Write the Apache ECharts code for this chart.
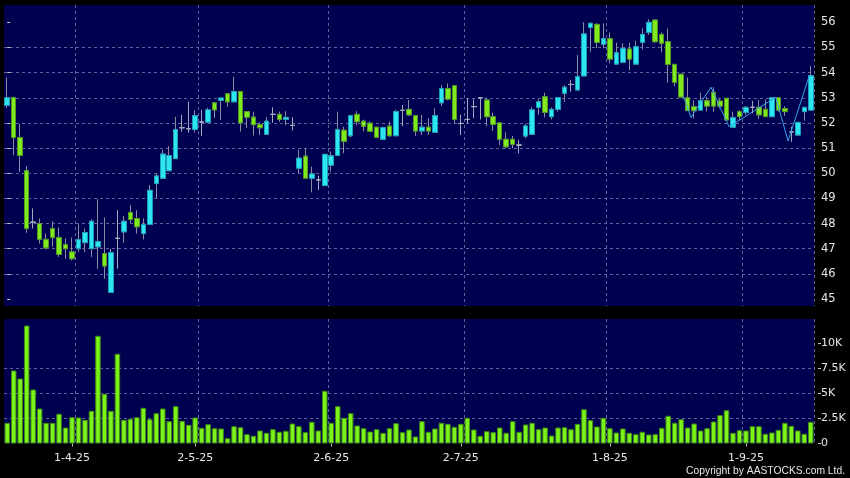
<!DOCTYPE html>
<html>
<head>
<meta charset="utf-8">
<script src="https://cdn.jsdelivr.net/npm/echarts@6/dist/echarts.min.js"></script>
<style>
html,body{margin:0;padding:0;background:#000;}
#c{width:850px;height:478px;}
</style>
</head>
<body>
<div id="c"></div>
<script>
// ---- data ----
const open  = [52.7,53.0,51.42,50.1,48.05,47.99,47.37,47.8,47.44,47.16,46.87,47.0,47.24,47.0,47.07,46.8,45.26,47.41,47.67,48.44,48.2,47.6,47.96,49.59,49.8,50.1,50.58,51.81,51.77,51.74,52.04,52.03,52.8,52.9,53.16,52.84,53.25,52.45,52.23,51.93,51.55,52.34,52.34,52.14,51.9,50.2,50.68,49.8,49.74,49.51,50.32,50.71,51.71,51.49,52.34,52.07,51.99,51.83,51.35,51.87,51.49,52.5,52.54,52.29,51.68,51.83,51.63,52.8,53.37,53.48,51.98,52.14,52.65,53.0,52.91,52.25,52.0,51.35,51.35,51.12,51.48,51.55,52.62,53.04,52.25,52.54,53.18,53.53,53.31,53.87,55.8,55.92,55.13,55.35,54.34,54.41,54.94,54.34,55.2,55.6,56.09,55.52,55.23,54.33,53.94,53.0,52.65,52.51,52.88,53.22,52.87,52.98,51.83,52.45,52.42,52.62,52.62,52.54,52.25,53.0,52.57,51.65,51.52,52.45,52.51];
const close = [53.0,51.42,50.71,47.8,48.05,47.37,47.03,47.44,46.77,47.0,46.6,47.36,47.64,48.09,47.28,46.31,46.84,47.41,48.09,48.16,47.87,47.96,49.32,49.89,50.76,50.7,51.74,51.81,51.77,52.29,52.04,52.52,52.52,52.99,52.84,53.25,52.0,52.23,51.93,51.81,52.07,52.34,52.14,52.22,51.9,50.6,49.8,49.97,49.74,50.75,50.69,51.74,51.27,52.29,52.05,51.87,51.67,51.43,51.81,51.49,52.45,52.5,52.32,51.68,51.83,51.68,52.29,53.37,52.95,52.14,51.98,52.14,52.65,53.0,52.25,51.94,51.35,51.05,51.15,51.12,51.88,52.52,52.84,52.42,52.54,53.01,53.42,53.53,53.84,55.54,55.96,55.2,55.35,54.54,54.79,54.97,54.54,55.03,55.52,56.0,55.23,55.17,54.33,53.61,53.03,52.49,52.49,52.88,52.67,52.67,52.67,52.12,52.21,52.25,52.62,52.62,52.32,52.25,53.0,52.51,52.45,51.65,52.02,52.62,53.88];
const high  = [53.8,53.05,51.96,50.28,48.6,48.2,47.6,48.09,47.84,47.41,47.44,47.97,47.8,48.17,48.97,48.24,47.0,48.53,48.3,48.73,48.53,48.2,49.53,49.99,50.92,51.08,52.24,52.32,52.85,52.5,52.52,52.6,52.8,52.99,53.16,53.84,53.25,52.45,52.45,52.02,52.23,52.62,52.45,52.47,52.23,50.92,51.0,50.26,49.9,50.76,50.86,52.45,51.85,52.32,52.47,52.13,52.05,51.85,51.85,52.05,52.52,52.71,52.91,52.29,52.32,52.18,52.58,53.5,53.57,53.48,52.32,52.98,52.94,53.0,53.0,52.41,52.0,51.63,51.48,51.32,51.96,52.62,52.94,53.2,52.62,53.01,53.5,53.7,54.7,56.0,56.0,55.96,55.96,55.6,55.19,55.17,55.19,55.27,55.76,56.12,56.12,55.6,55.76,54.33,53.94,53.81,52.9,53.2,53.04,53.42,52.98,52.98,52.45,52.51,52.67,52.88,52.91,52.94,53.0,53.0,52.67,51.85,52.05,52.62,54.26];
const low   = [52.6,50.72,50.06,47.63,47.8,47.2,46.97,47.07,46.67,46.6,46.53,46.87,46.87,46.67,46.2,45.8,45.26,46.2,47.23,48.03,47.6,47.37,47.96,49.0,49.8,50.1,50.58,51.65,51.61,51.61,51.49,52.0,52.2,52.12,52.64,52.84,51.66,51.8,51.5,51.52,51.52,52.0,52.04,51.9,51.7,49.99,49.8,49.24,49.33,49.5,50.06,50.71,50.79,51.43,51.91,51.67,51.64,51.39,51.32,51.45,51.49,51.87,52.28,51.49,51.52,51.52,51.63,52.67,52.9,51.96,51.52,51.98,52.19,52.14,51.87,51.68,51.12,50.99,50.99,50.79,51.39,51.55,52.32,52.22,52.14,52.45,52.84,53.24,53.31,53.87,54.83,54.97,54.97,54.37,54.34,54.37,54.1,54.34,54.92,55.5,55.19,54.81,53.6,53.47,53.0,52.49,52.18,52.51,52.45,52.45,52.58,52.09,51.83,52.09,52.32,52.38,52.16,52.25,52.25,52.45,52.28,51.25,51.52,52.09,52.51];
const volume = [2070,7300,6500,11800,5400,3500,2070,2070,2970,1600,2630,2600,2370,3270,10770,4970,3270,8970,2370,2470,2630,3570,2430,3030,3500,2230,3730,2270,1870,2600,1570,1930,1530,1500,530,1730,1630,930,770,1300,1070,1430,1170,1270,2000,1730,1130,2170,1300,5270,2070,3730,2570,3030,1800,1530,1200,1430,1070,1530,2030,1130,1400,700,2230,1170,1500,2070,1970,1670,1970,2570,1400,770,1230,1130,1600,1070,2230,1170,1900,2070,1430,1600,800,1600,1630,1430,1970,3430,2330,1700,2570,1530,1100,1500,1070,930,1170,900,930,1570,2770,2070,2430,1600,2000,1300,1530,2200,2830,3330,1070,1330,1300,1730,1730,970,1100,1370,2070,1770,1300,970,2170];
// thin overlay line (position in bar units, price)
const lineX = [104.3,105.5,108.6,111.4,118.6,120.5,123.8];
const lineY = [53.1,52.22,53.42,51.85,53.02,51.28,53.9];
// axis labels
const tickIndex  = [10,29,50,70,93,114];
const tickLabels = ['1-4-25','2-5-25','2-6-25','2-7-25','1-8-25','1-9-25'];
const vGridIndex = [11,30,50,71,93,114];
const priceTicks = [45,46,47,48,49,50,51,52,53,54,55,56];
const volTicks   = [0,2500,5000,7500,10000];
const volTickLabels = ['0','2.5K','5K','7.5K','10K'];

const categories = open.map((_, i) => String(i));
const wickData = open.map((o, i) => [o, close[i], low[i], high[i]]);
const bodyData = open.map((o, i) => [o, close[i], Math.min(o, close[i]), Math.max(o, close[i])]);
const lineData = lineX.map((x, i) => [x, lineY[i]]);

const FONT = 'DejaVu Sans';
const gridLine = { show: true, lineStyle: { color: '#62629a', width: 1, type: [3, 3] } };
const labelIdx = (i) => tickIndex.indexOf(i) >= 0;
const vgIdx = (i) => vGridIndex.indexOf(i) >= 0;

const chart = echarts.init(document.getElementById('c'), null, { renderer: 'canvas' });
chart.setOption({
  backgroundColor: '#000000',
  animation: false,
  grid: [
    { left: 4, right: 36, top: 5, height: 301, show: true, backgroundColor: '#000050', borderWidth: 0 },
    { left: 4, right: 36, top: 319, height: 124.5, show: true, backgroundColor: '#000050', borderWidth: 0 }
  ],
  xAxis: [
    { type: 'category', gridIndex: 0, data: categories, boundaryGap: true,
      axisLine: { show: false }, axisTick: { show: false }, axisLabel: { show: false },
      splitLine: Object.assign({ interval: (i) => vgIdx(i) }, gridLine) },
    { type: 'category', gridIndex: 1, data: categories, boundaryGap: true,
      axisLine: { show: false },
      axisTick: { show: true, alignWithLabel: true, interval: (i) => labelIdx(i), length: 3, lineStyle: { color: '#bbbbbb' } },
      axisLabel: { show: true, interval: (i) => labelIdx(i), color: '#e6e6e6', fontFamily: FONT, fontSize: 11, margin: 9,
        formatter: (v, i) => { const k = tickIndex.indexOf(Number(v)); return k >= 0 ? tickLabels[k] : ''; } },
      splitLine: Object.assign({ interval: (i) => vgIdx(i) }, gridLine) },
    { type: 'value', gridIndex: 0, min: -0.5, max: open.length - 0.5, show: false }
  ],
  yAxis: [
    { type: 'value', gridIndex: 0, position: 'right', min: 44.72, max: 56.69, offset: 4,
      axisLine: { show: false },
      axisTick: { show: true, length: 3, customValues: priceTicks, lineStyle: { color: '#cccccc' } },
      axisLabel: { show: true, customValues: priceTicks, color: '#e6e6e6', fontFamily: FONT, fontSize: 11.5, margin: 3 },
      splitLine: Object.assign({ showMinLine: false, showMaxLine: false }, gridLine) },
    { type: 'value', gridIndex: 1, position: 'right', min: 0, max: 12450, offset: 4,
      axisLine: { show: false },
      axisTick: { show: true, length: 3, customValues: volTicks, lineStyle: { color: '#cccccc' } },
      axisLabel: { show: true, customValues: volTicks, color: '#e6e6e6', fontFamily: FONT, fontSize: 11, margin: 3,
        formatter: (v) => { const k = volTicks.indexOf(v); return k >= 0 ? volTickLabels[k] : ''; } },
      splitLine: Object.assign({ showMinLine: false, showMaxLine: false }, gridLine) }
  ],
  series: [
    { type: 'candlestick', xAxisIndex: 0, yAxisIndex: 0, data: wickData, barWidth: 5, z: 2,
      itemStyle: { color: 'transparent', color0: 'transparent', borderColor: '#8c8ca4', borderColor0: '#8c8ca4', borderColorDoji: '#a4a8bc', borderWidth: 1 } },
    { type: 'candlestick', xAxisIndex: 0, yAxisIndex: 0, data: bodyData, barWidth: 5, z: 3,
      itemStyle: { color: '#2ee6f2', color0: '#80ea1e', borderColor: '#1aa0b4', borderColor0: '#4f9a1c', borderColorDoji: '#a4a8bc', borderWidth: 1 } },
    { type: 'line', xAxisIndex: 2, yAxisIndex: 0, data: lineData, symbol: 'none', z: 4,
      lineStyle: { color: '#3aa2e6', width: 1 } },
    { type: 'bar', xAxisIndex: 1, yAxisIndex: 1, data: volume, barWidth: 5.5,
      itemStyle: { color: '#7cf41c', borderColor: '#3f8a12', borderWidth: 1 } }
  ],
  graphic: [
    { type: 'text', x: 845, y: 471, style: { text: 'Copyright by AASTOCKS.com Ltd.', fill: '#e6e6e6', align: 'right', verticalAlign: 'middle', font: '10.3px "Liberation Sans", Arial, sans-serif' } }
  ]
});
</script>
</body>
</html>
